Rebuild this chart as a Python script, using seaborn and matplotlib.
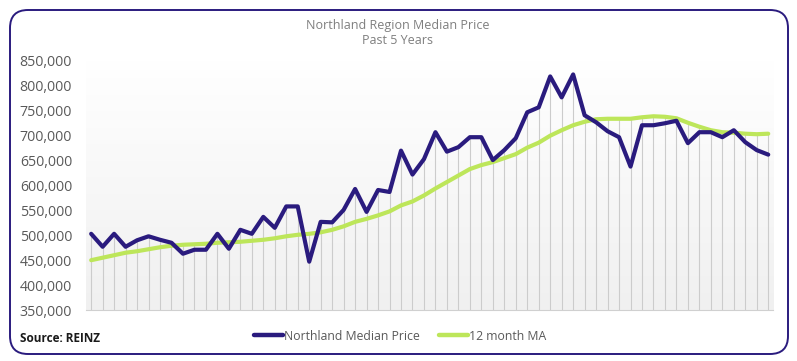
import numpy as np
import pandas as pd
import matplotlib
matplotlib.use("Agg")
import matplotlib.pyplot as plt
from matplotlib.patches import FancyBboxPatch
from matplotlib.transforms import IdentityTransform
from matplotlib.colors import LinearSegmentedColormap
from matplotlib.ticker import FuncFormatter, FixedLocator, NullFormatter
from matplotlib.lines import Line2D
import seaborn as sns

# ---------------- data ----------------
title_lines = ["Northland Region Median Price", "Past 5 Years"]
series_names = ["Northland Median Price", "12 month MA"]
median_price = [503000, 477000, 503000, 477000, 490000, 498000, 491000, 485000, 463000, 471000,
                471000, 503000, 473000, 511000, 503000, 537000, 515000, 558000, 558000, 447000,
                527000, 526000, 551000, 593000, 547000, 591000, 587000, 670000, 622000, 653000,
                707000, 668000, 677000, 697000, 697000, 651000, 671000, 695000, 747000, 757000,
                819000, 777000, 823000, 741000, 727000, 709000, 697000, 638000, 721000, 721000,
                725000, 730000, 685000, 707000, 707000, 697000, 711000, 687000, 671000, 662000]
ma_12 = [450000, 455000, 460000, 465000, 468000, 472000, 476000, 479000, 481000, 482000,
         483000, 485000, 486000, 487000, 489000, 491000, 494000, 498000, 501000, 503000,
         506000, 511000, 518000, 527000, 533000, 540000, 548000, 560000, 568000, 580000,
         594000, 607000, 620000, 633000, 641000, 647000, 655000, 663000, 676000, 686000,
         700000, 711000, 721000, 728000, 733000, 734000, 734000, 734000, 737000, 739000,
         738000, 735000, 726000, 718000, 711000, 707000, 706000, 704000, 703000, 704000]
y_ticks = [350000, 400000, 450000, 500000, 550000, 600000, 650000, 700000, 750000, 800000, 850000]
source_text = "Source: REINZ"

months = list(range(len(median_price)))
df = pd.DataFrame({
    "month": months * 2,
    "price": median_price + ma_12,
    "series": [series_names[0]] * len(months) + [series_names[1]] * len(months),
})

# ---------------- style ----------------
sns.set_style("white")
plt.rcParams["font.family"] = ["Open Sans", "DejaVu Sans"]

NAVY = "#2a1b7e"
GREEN = "#bde65a"
TXT = "#595959"

fig = plt.figure(figsize=(7.97, 3.61), dpi=100)
W, H = 797, 361

# rounded frame
frame = FancyBboxPatch((10, H - 354), 778, 344, boxstyle="round,pad=0,rounding_size=18",
                       transform=IdentityTransform(), facecolor="white",
                       edgecolor=NAVY, linewidth=1.4, zorder=-10)
fig.patches.append(frame)

ax = fig.add_axes([86 / W, 1 - 310 / H, (773.4 - 86) / W, (310 - 61) / H])
ax.set_facecolor("none")
ax.set_zorder(1)

xlo, xhi = -0.45, len(months) - 0.55
ylo, yhi = y_ticks[0], y_ticks[-1]

# gradient background
cmap = LinearSegmentedColormap.from_list("g", ["#ffffff", "#f0f0f0"])
grad = np.linspace(0, 1, 256).reshape(-1, 1)
ax.imshow(grad, extent=[xlo, xhi, ylo, yhi], origin="upper", aspect="auto", cmap=cmap,
          zorder=0, interpolation="bicubic")

# drop lines
tops = np.maximum(np.array(median_price), np.array(ma_12))
ax.vlines(months, ylo, tops, colors="#cccccc", linewidth=0.8, zorder=1)

sns.lineplot(data=df, x="month", y="price", hue="series",
             palette={series_names[0]: NAVY, series_names[1]: GREEN},
             hue_order=[series_names[1], series_names[0]],
             linewidth=3.0, ax=ax, legend=False, zorder=3)
for ln in ax.lines:
    if matplotlib.colors.to_hex(ln.get_color()) == NAVY:
        ln.set_zorder(4)
    ln.set_solid_joinstyle("round")
    ln.set_solid_capstyle("round")

ax.set_xlim(xlo, xhi)
ax.set_ylim(ylo, yhi)
ax.set_xlabel("")
ax.set_ylabel("")

ax.yaxis.set_major_locator(FixedLocator(y_ticks))
ax.yaxis.set_major_formatter(FuncFormatter(lambda v, p: f"{int(v):,}"))
ax.tick_params(axis="y", length=0, pad=10, labelsize=10.2, labelcolor=TXT)

ax.xaxis.set_major_locator(FixedLocator([m - 0.5 for m in months] + [months[-1] + 0.5]))
ax.xaxis.set_major_formatter(NullFormatter())
ax.tick_params(axis="x", length=3.5, width=0.8, color="#c8c8c8", direction="out")

for s in ["top", "right", "left"]:
    ax.spines[s].set_visible(False)
ax.spines["bottom"].set_color("#d0d0d0")
ax.spines["bottom"].set_linewidth(0.8)

# title
fig.text(398 / W, 1 - 26 / H, title_lines[0], ha="center", va="center", fontsize=9, color="#7f7f7f")
fig.text(398 / W, 1 - 40 / H, title_lines[1], ha="center", va="center", fontsize=9, color="#7f7f7f")

# source
fig.text(20 / W, 1 - 339 / H, source_text, ha="left", va="center", fontsize=8.5,
         fontweight="bold", color="#1a1a1a")

# legend
handles = [Line2D([0], [0], color=NAVY, lw=3.2), Line2D([0], [0], color=GREEN, lw=3.2)]
fig.legend(handles, series_names, loc="center", bbox_to_anchor=(400 / W, 1 - 336 / H),
           ncol=2, frameon=False, fontsize=8.8, handlelength=2.4, handletextpad=0.05,
           columnspacing=1.6, labelcolor=TXT)

fig.savefig("out.png", dpi=100)
